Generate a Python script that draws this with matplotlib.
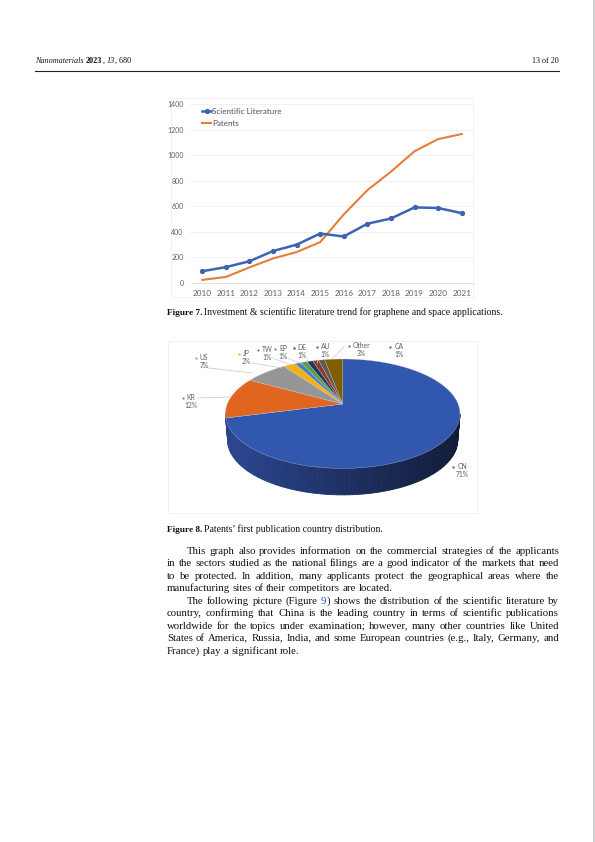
import numpy as np
import matplotlib
matplotlib.use("Agg")
import matplotlib.pyplot as plt
from matplotlib.patches import Polygon, Rectangle

W, H = 595, 842

years = [2010, 2011, 2012, 2013, 2014, 2015, 2016, 2017, 2018, 2019, 2020, 2021]
literature = [90, 122, 168, 248, 298, 385, 362, 462, 503, 590, 585, 545]
patents = [22, 45, 120, 190, 240, 318, 535, 725, 870, 1030, 1125, 1165]
y_ticks = [0, 200, 400, 600, 800, 1000, 1200, 1400]

countries = ["CN", "KR", "US", "JP", "TW", "EP", "DE", "AU", "CA", "Other"]
shares = [71, 12, 7, 2, 1, 1, 1, 1, 1, 3]
slice_colors = ["#3157ae", "#e2651f", "#969696", "#f4b117", "#3f82c4", "#5a9e3c",
                "#1d3768", "#93391a", "#5a5a5a", "#7f5e00"]

body = [
    "This graph also provides information on the commercial strategies of the applicants",
    "in the sectors studied as the national filings are a good indicator of the markets that need",
    "to be protected. In addition, many applicants protect the geographical areas where the",
    "manufacturing sites of their competitors are located.",
    "The following picture (Figure 9) shows the distribution of the scientific literature by",
    "country, confirming that China is the leading country in terms of scientific publications",
    "worldwide for the topics under examination; however, many other countries like United",
    "States of America, Russia, India, and some European countries (e.g., Italy, Germany, and",
    "France) play a significant role.",
]
body_y = [554.25, 566.25, 579.25, 591.25, 604.25, 616.25, 629.25, 641.25, 654.25]
body_indent = [True, False, False, False, True, False, False, False, False]
body_full = [True, True, True, False, True, True, True, True, False]

fig = plt.figure(figsize=(W / 100, H / 100), dpi=100)
page = fig.add_axes([0, 0, 1, 1])
page.set_xlim(0, W)
page.set_ylim(H, 0)
page.axis("off")
renderer = fig.canvas.get_renderer()
SERIF = "Liberation Serif"
SANS = "Lato"
BODY_SIZE = 7.75
INK = "#111111"


def width_of(t):
    return t.get_window_extent(renderer).width


def level(t):
    # agg snaps each text by its own descent, undo that so words in a line share a baseline
    d = renderer.get_text_width_height_descent(t.get_text(), t.get_fontproperties(), False)[2]
    t.set_y(t.get_position()[1] - d + np.floor(d))


def draw_line(line, y, x0, x1, justify):
    items = []
    for word in line.split():
        t = page.text(x0, y, word, family=SERIF, fontsize=BODY_SIZE, color=INK, va="baseline")
        items.append(t)
    widths = [width_of(t) for t in items]
    space = (x1 - x0 - sum(widths)) / (len(items) - 1) if justify else 2.6
    x = x0
    for t, w in zip(items, widths):
        t.set_x(x)
        if t.get_text() == "9)":
            t.set_text("9")
            t.set_color("#1f4e9c")
            w9 = width_of(t)
            level(page.text(x + w9, y, ")", family=SERIF, fontsize=BODY_SIZE, color=INK, va="baseline"))
        level(t)
        x += w + space


# header
x = 35
for piece, style, weight in [("Nanomaterials", "italic", "normal"), ("2023", "normal", "bold"),
                             (",", "normal", "normal"), ("13", "italic", "normal"),
                             (", 680", "normal", "normal")]:
    t = page.text(x, 63.25, piece, family=SERIF, style=style, weight=weight, fontsize=5.9, va="baseline", color=INK)
    x += width_of(t) + (2.4 if piece in ("Nanomaterials", ",") else 0.2)
    level(t)
page.text(559, 63.25, "13 of 20", family=SERIF, fontsize=5.9, va="baseline", ha="right", color=INK)
page.plot([35, 559], [70.5, 70.5], color="#222222", lw=0.8)
page.add_patch(Rectangle((593, 0), 2, H, color="#d0d0d0", lw=0))

# figure frames
page.add_patch(Rectangle((170.5, 98), 302.5, 199, fill=False, ec="#eeeeee", lw=0.6))
page.add_patch(Rectangle((168, 341), 309, 172, fill=False, ec="#eeeeee", lw=0.6))

# line chart
ax = fig.add_axes([190.5 / W, 1 - 282.7 / H, 283 / W, 178.7 / H], facecolor="none")
ax.plot(years, patents, color="#e57e3a", lw=1.5, label="Patents", zorder=2)
ax.plot(years, literature, color="#3d63b5", lw=1.8, marker="o", ms=2.8, label="Scientific Literature", zorder=3)
ax.set_xlim(2009.5, 2021.5)
ax.set_ylim(0, 1400)
ax.set_xticks(years)
ax.set_yticks(y_ticks)
ax.tick_params(length=0, labelsize=5.0, labelcolor="#606060", pad=5, labelfontfamily=SANS)
ax.tick_params(axis="x", labelsize=5.9, pad=5)
ax.grid(axis="y", color="#efefef", lw=0.6)
ax.set_axisbelow(True)
for side in ["top", "right", "left"]:
    ax.spines[side].set_visible(False)
ax.spines["bottom"].set_color("#dddddd")
ax.spines["bottom"].set_linewidth(0.6)
handles, labels = ax.get_legend_handles_labels()
ax.legend(handles[::-1], labels[::-1], loc="upper left", bbox_to_anchor=(0.04, 0.98), frameon=False,
          prop={"family": SANS, "size": 5.8}, labelcolor="#505050", handlelength=1.2, handletextpad=0.1,
          labelspacing=0.7, borderpad=0, borderaxespad=0)

page.text(167, 315.25, "Figure 7.", family=SERIF, weight="bold", fontsize=6.7, va="baseline", color=INK)
level(page.text(204.5, 315.25, "Investment & scientific literature trend for graphene and space applications.",
                family=SERIF, fontsize=7.05, va="baseline", color=INK))

# pseudo-3D pie, top ellipse with the apex above its centre
cx, cy, rx, ry = 342.7, 413.7, 117.3, 54.7
apex_y = 404.0
depth = 26.5
side_rx = 115


def rim_point(theta):
    # ray from the apex at pie angle theta (clockwise from 12 o'clock) onto the ellipse
    dx, dy = np.sin(theta), -np.cos(theta) * ry / rx
    ux, uy = dx / rx, dy / ry
    py = (apex_y - cy) / ry
    b = uy * py
    c = py * py - 1
    a = ux * ux + uy * uy
    s = (-b + np.sqrt(b * b - a * c)) / a
    return cx + s * dx, apex_y + s * dy


cum = np.cumsum([0] + shares) / sum(shares) * 2 * np.pi

# side wall, shaded left to right
ts = np.linspace(np.pi / 2, 3 * np.pi / 2, 90)
left, right = np.array([0x2a, 0x45, 0x8e]), np.array([0x12, 0x1c, 0x38])
for t0, t1 in zip(ts[:-1], ts[1:]):
    xa, ya = cx + rx * np.sin(t0), cy - ry * np.cos(t0)
    xb, yb = cx + rx * np.sin(t1), cy - ry * np.cos(t1)
    xc, yc = cx + side_rx * np.sin(t1), cy + depth - ry * np.cos(t1)
    xd, yd = cx + side_rx * np.sin(t0), cy + depth - ry * np.cos(t0)
    f = min(1, (1 - (xa - (cx - rx)) / (2 * rx)) * 1.05)
    col = (right + (left - right) * f) / 255
    page.add_patch(Polygon([(xa, ya), (xb, yb), (xc, yc), (xd, yd)], fc=col, ec=col, lw=0.6, zorder=3))

# top face slices
for i, name in enumerate(countries):
    arc = np.linspace(cum[i], cum[i + 1], 90)
    pts = [rim_point(a) for a in arc]
    page.add_patch(Polygon([(cx, apex_y)] + pts, fc=slice_colors[i], ec="#c4cde0", lw=0.2, zorder=4))

# data labels
label_pos = {
    "CN": (462, 466.7), "KR": (191, 397.7), "US": (204, 358), "JP": (246, 354), "TW": (267, 350),
    "EP": (283, 348.5), "DE": (302, 348), "AU": (325.5, 346.7), "CA": (399, 346.7), "Other": (361.7, 346),
}
for name, share, col in zip(countries, shares, slice_colors):
    lx, ly = label_pos[name]
    t = page.text(lx, ly, name, family=SANS, fontsize=4.9, color="#606060", va="center", ha="center", zorder=6)
    w = width_of(t)
    page.plot([lx - w / 2 - 4], [ly], marker="s", ms=1.4, color=col, mew=0, zorder=6)
    page.text(lx, ly + 8, f"{share}%", family=SANS, fontsize=4.9, color="#606060", va="center", ha="center", zorder=6)

leaders = [
    ([198, 230], [398, 397]),
    ([200, 252], [367, 373]),
    ([252, 282], [363, 368]),
    ([272, 292], [358, 365]),
    ([287, 302], [358, 364]),
    ([307, 307], [358, 363]),
    ([317, 317], [359, 363]),
    ([344, 332], [347, 359]),
]
for lx, ly in leaders:
    page.plot(lx, ly, color="#c8c8c8", lw=0.5, zorder=5)

page.text(167, 532.25, "Figure 8.", family=SERIF, weight="bold", fontsize=6.7, va="baseline", color=INK)
level(page.text(204.5, 532.25, "Patents\u2019 first publication country distribution.",
                family=SERIF, fontsize=7.05, va="baseline", color=INK))

for line, y, indent, full in zip(body, body_y, body_indent, body_full):
    draw_line(line, y, 187 if indent else 167, 559, full)

fig.savefig("out.png", dpi=100)
